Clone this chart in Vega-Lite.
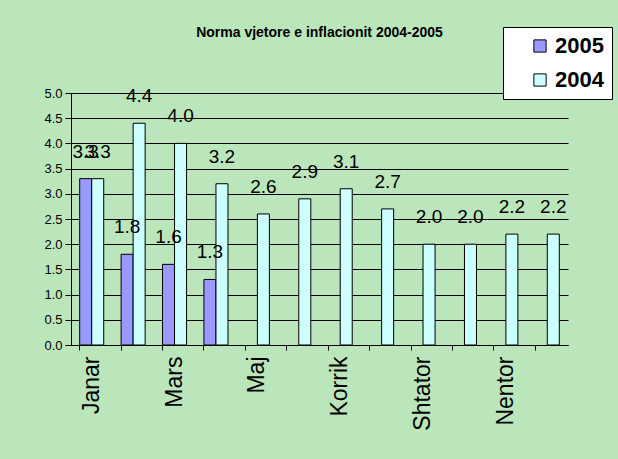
{
  "$schema": "https://vega.github.io/schema/vega-lite/v6.json",
  "width": 497,
  "height": 252,
  "autosize": {"type": "none"},
  "padding": {"left": 71, "top": 93, "right": 50, "bottom": 114},
  "background": "#bbe5bb",
  "title": {
    "text": "Norma vjetore e inflacionit 2004-2005",
    "font": "Liberation Sans",
    "fontSize": 14,
    "fontWeight": "bold",
    "color": "black",
    "anchor": "middle",
    "frame": "group",
    "baseline": "alphabetic",
    "dx": 0,
    "offset": -24
  },
  "data": {
    "values": [
      {"month": "Janar", "year": "2005", "value": 3.3},
      {"month": "Shkurt", "year": "2005", "value": 1.8},
      {"month": "Mars", "year": "2005", "value": 1.6},
      {"month": "Prill", "year": "2005", "value": 1.3},
      {"month": "Janar", "year": "2004", "value": 3.3},
      {"month": "Shkurt", "year": "2004", "value": 4.4},
      {"month": "Mars", "year": "2004", "value": 4.0},
      {"month": "Prill", "year": "2004", "value": 3.2},
      {"month": "Maj", "year": "2004", "value": 2.6},
      {"month": "Qershor", "year": "2004", "value": 2.9},
      {"month": "Korrik", "year": "2004", "value": 3.1},
      {"month": "Gusht", "year": "2004", "value": 2.7},
      {"month": "Shtator", "year": "2004", "value": 2.0},
      {"month": "Tetor", "year": "2004", "value": 2.0},
      {"month": "Nentor", "year": "2004", "value": 2.2},
      {"month": "Dhjetor", "year": "2004", "value": 2.2}
    ]
  },
  "encoding": {
    "x": {
      "field": "month",
      "type": "nominal",
      "sort": ["Janar", "Shkurt", "Mars", "Prill", "Maj", "Qershor", "Korrik", "Gusht", "Shtator", "Tetor", "Nentor", "Dhjetor"],
      "scale": {"paddingInner": 0.42, "paddingOuter": 0.21},
      "axis": {
        "title": null,
        "labelAngle": -90,
        "labelAlign": "right",
        "labelBaseline": "middle",
        "labelFont": "Liberation Sans",
        "labelFontSize": 23,
        "labelColor": "black",
        "labelExpr": "indexof(['Janar','Mars','Maj','Korrik','Shtator','Nentor'], datum.label) >= 0 ? datum.label : ''",
        "bandPosition": 0,
        "labelPadding": 6,
        "tickSize": 5,
        "tickColor": "black",
        "domainColor": "black",
        "labelOverlap": false,
        "grid": false
      }
    },
    "xOffset": {"field": "year", "type": "nominal", "sort": ["2005", "2004"]},
    "y": {
      "field": "value",
      "type": "quantitative",
      "scale": {"domain": [0, 5], "nice": false},
      "axis": {
        "title": null,
        "values": [0, 0.5, 1, 1.5, 2, 2.5, 3, 3.5, 4, 4.5, 5],
        "format": ".1f",
        "labelFont": "Liberation Sans",
        "labelFontSize": 13,
        "labelColor": "black",
        "labelPadding": 3,
        "tickSize": 6,
        "tickColor": "black",
        "domainColor": "black",
        "grid": true,
        "gridColor": "black",
        "gridOpacity": 1,
        "gridWidth": 1
      }
    },
    "color": {
      "field": "year",
      "type": "nominal",
      "scale": {"domain": ["2005", "2004"], "range": ["#9999ff", "#ccffff"]},
      "legend": {
        "orient": "none",
        "legendX": 432,
        "legendY": -66,
        "title": null,
        "fillColor": "white",
        "strokeColor": "black",
        "padding": 8,
        "symbolType": "square",
        "symbolSize": 150,
        "symbolStrokeColor": "black",
        "symbolStrokeWidth": 1,
        "symbolOffset": 18,
        "labelFont": "Liberation Sans",
        "labelFontSize": 22,
        "labelFontWeight": "bold",
        "labelColor": "black",
        "labelOffset": 4,
        "rowPadding": 12
      }
    }
  },
  "layer": [
    {"mark": {"type": "bar", "stroke": "black", "strokeWidth": 1}},
    {
      "mark": {"type": "text", "font": "Liberation Sans", "fontSize": 19, "baseline": "alphabetic", "dy": -21, "color": "black"},
      "encoding": {"text": {"field": "value", "type": "quantitative", "format": ".1f"}, "color": {"value": "black"}}
    }
  ],
  "config": {"view": {"stroke": null}}
}
